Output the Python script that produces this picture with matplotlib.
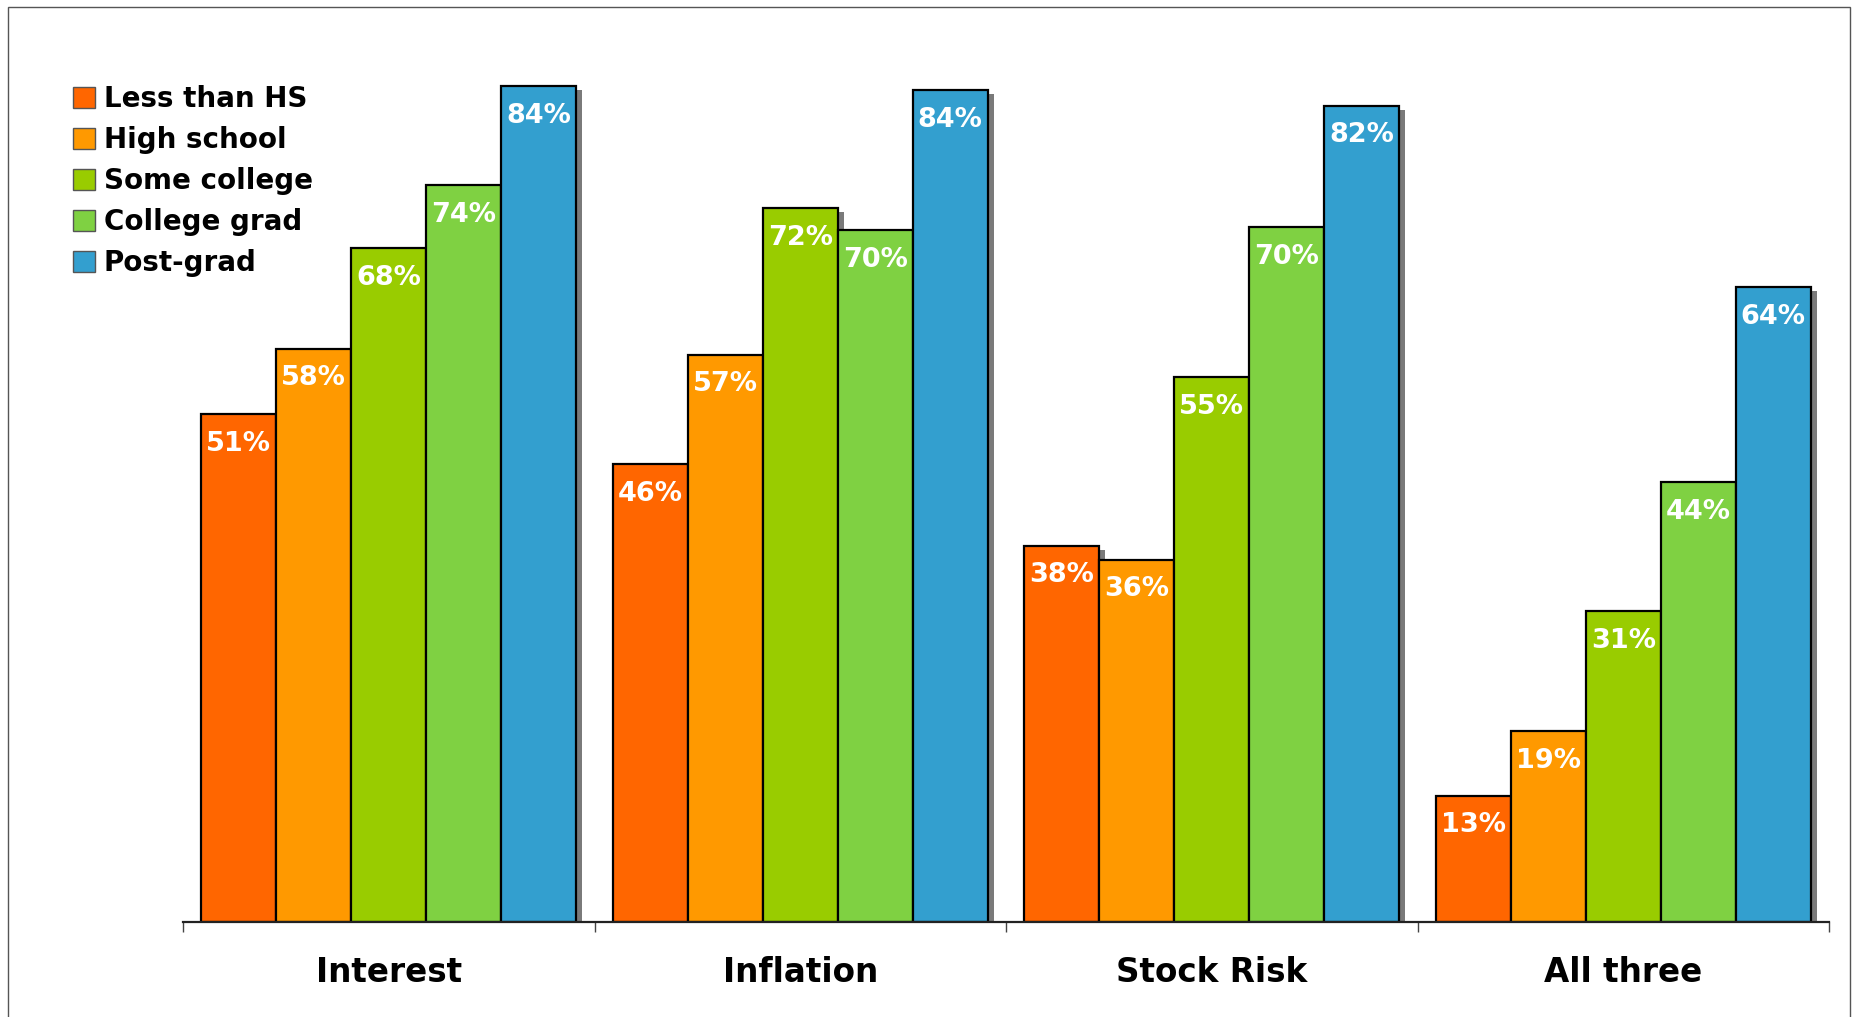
import numpy as np
import matplotlib
matplotlib.use('Agg')
import matplotlib.pyplot as plt
from matplotlib.patches import Patch, Rectangle

# data
categories = ['Interest', 'Inflation', 'Stock Risk', 'All three']
groups = ['Less than HS', 'High school', 'Some college', 'College grad', 'Post-grad']
colors = ['#FF6600', '#FF9900', '#99CC00', '#7FD142', '#339FCF']

less_than_hs = [51.0, 46.0, 37.8, 12.7]
high_school = [57.6, 57.0, 36.4, 19.2]
some_college = [67.7, 71.7, 54.7, 31.2]
college_grad = [74.0, 69.5, 69.8, 44.2]
post_grad = [84.0, 83.6, 82.0, 63.8]
series = [less_than_hs, high_school, some_college, college_grad, post_grad]

W, H = 1854, 1017
fig = plt.figure(figsize=(W / 100, H / 100), dpi=100)
fig.patches.append(Rectangle((8 / W, -0.01), (1850 - 8) / W, (H - 7) / H + 0.01,
                             transform=fig.transFigure, fill=False,
                             edgecolor='#555555', linewidth=1))

ax = fig.add_axes([183 / W, 95 / H, (1829 - 183) / W, 896 / H])
ax.set_xlim(-0.5, 3.5)
ax.set_ylim(0, 90)

x = np.arange(len(categories))
bw = 0.1823
px_x = 1 / 411.5      # data units per pixel, x
px_y = 90 / 896       # data units per pixel, y

# drop shadows first
for i, vals in enumerate(series):
    xs = x + (i - 2) * bw + 6 * px_x
    ax.bar(xs, np.array(vals) - 4 * px_y, bw, color='#7a7a7a', linewidth=0, zorder=1)

for i, (vals, c) in enumerate(zip(series, colors)):
    xs = x + (i - 2) * bw
    ax.bar(xs, vals, bw, color=c, edgecolor='black', linewidth=1.6, zorder=2)
    for xi, v in zip(xs, vals):
        ax.annotate(f'{round(v)}%', (xi, v), xytext=(0, -26.5), textcoords='offset points',
                    ha='center', va='baseline', color='white', fontsize=19.5,
                    fontweight='bold', zorder=3)

for s in ['left', 'right', 'top']:
    ax.spines[s].set_visible(False)
ax.spines['bottom'].set_linewidth(1.6)
ax.spines['bottom'].set_color('#222222')
ax.set_yticks([])
ax.set_xticks([-0.5, 0.5, 1.5, 2.5, 3.5])
ax.set_xticklabels([])
ax.tick_params(axis='x', length=7.5, width=1, color='#444444', direction='out')

for xi, cat in zip(x, categories):
    ax.annotate(cat, (xi, 0), xytext=(0, -43.2), textcoords='offset points',
                ha='center', va='baseline', fontsize=23.5, fontweight='bold')

handles = [Patch(facecolor=c, edgecolor='#555555', linewidth=1) for c in colors]
ax.legend(handles, groups, loc='upper left', bbox_to_anchor=(73 / W, (H - 85) / H),
          bbox_transform=fig.transFigure, frameon=False, borderpad=0, borderaxespad=0,
          handlelength=0.8, handleheight=0.8, handletextpad=0.3, labelspacing=0.47,
          prop={'size': 20, 'weight': 'bold'})

fig.savefig('out.png', dpi=100)
